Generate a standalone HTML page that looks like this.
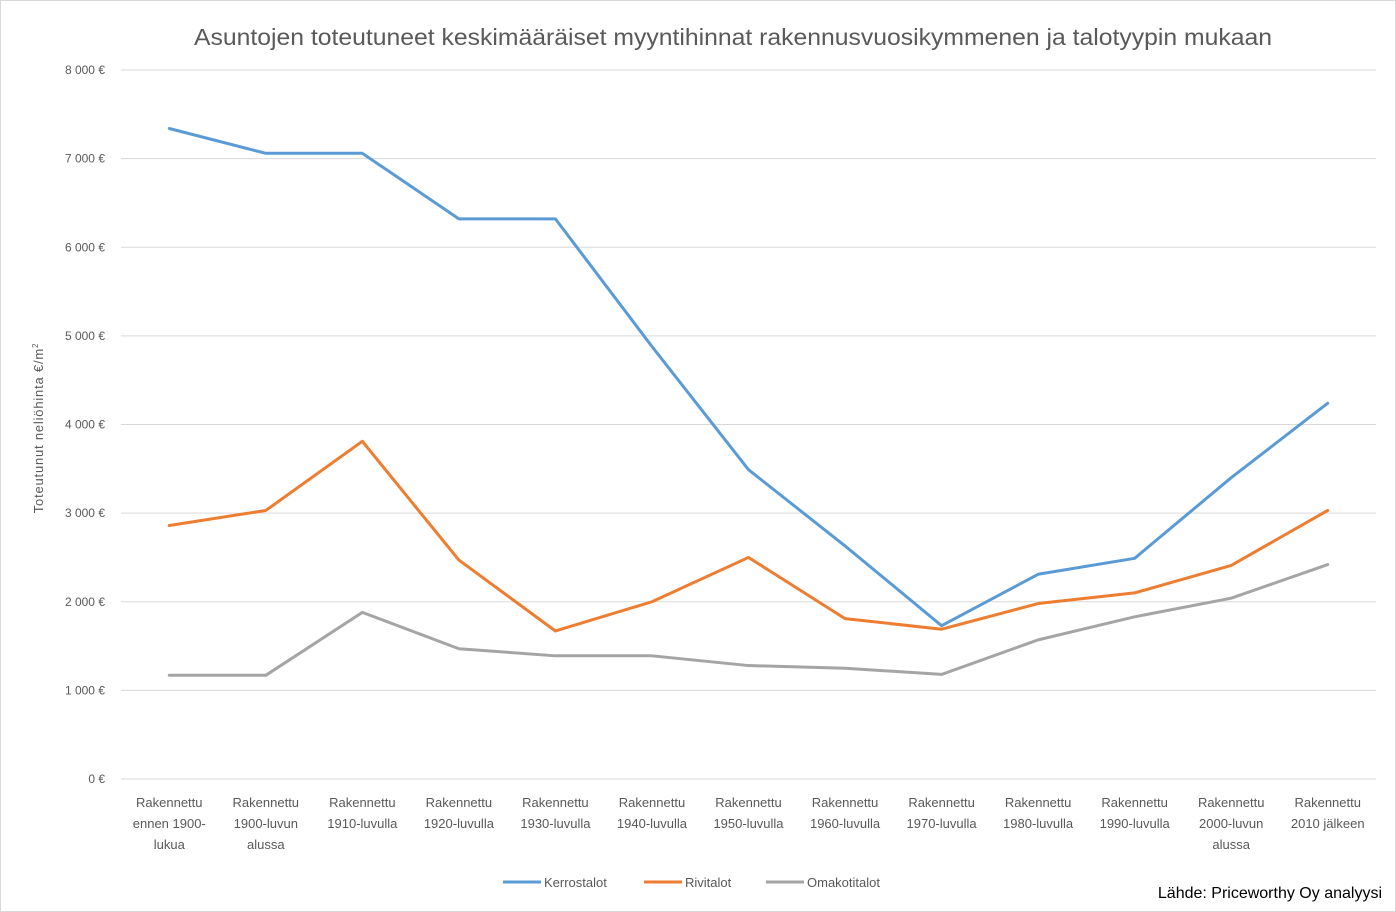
<!DOCTYPE html>
<html><head><meta charset="utf-8">
<style>
html,body{margin:0;padding:0;background:#fff;}
#wrap{position:relative;width:1394px;height:910px;border:1px solid #d9d9d9;overflow:hidden;font-family:"Liberation Sans",sans-serif;}
svg text{font-family:"Liberation Sans",sans-serif;}
</style></head>
<body>
<div id="wrap">
<svg id="chart" width="1394" height="910"></svg>
</div>
<script>
const categories=[["Rakennettu","ennen 1900-","lukua"],["Rakennettu","1900-luvun","alussa"],["Rakennettu","1910-luvulla"],["Rakennettu","1920-luvulla"],["Rakennettu","1930-luvulla"],["Rakennettu","1940-luvulla"],["Rakennettu","1950-luvulla"],["Rakennettu","1960-luvulla"],["Rakennettu","1970-luvulla"],["Rakennettu","1980-luvulla"],["Rakennettu","1990-luvulla"],["Rakennettu","2000-luvun","alussa"],["Rakennettu","2010 jälkeen"]];
const kerrostalot=[7340,7060,7060,6320,6320,4880,3490,2630,1730,2310,2490,3400,4240];
const rivitalot=[2860,3030,3810,2470,1670,2000,2500,1810,1690,1980,2100,2410,3030];
const omakotitalot=[1170,1170,1880,1470,1390,1390,1280,1250,1180,1570,1830,2040,2420];
const yTicks=[0,1000,2000,3000,4000,5000,6000,7000,8000];
const yTickLabels=["0 €","1 000 €","2 000 €","3 000 €","4 000 €","5 000 €","6 000 €","7 000 €","8 000 €"];
const seriesNames=["Kerrostalot","Rivitalot","Omakotitalot"];
const seriesColors=["#5b9bd5","#ed7d31","#a5a5a5"];

const NS="http://www.w3.org/2000/svg";
const svg=document.getElementById('chart');
function el(t,a,p){const e=document.createElementNS(NS,t);for(const k in a)e.setAttribute(k,a[k]);(p||svg).appendChild(e);return e;}
const x0=120,x1=1375,yBase=778,yTop=69;
const step=(x1-x0)/categories.length;
const xs=i=>x0+step*(i+0.5);
const ys=v=>yBase-(v/8000)*(yBase-yTop);

let t=el('text',{x:732,y:44,'text-anchor':'middle','font-size':23,'textLength':1078,'lengthAdjust':'spacingAndGlyphs',fill:'#595959'});

t.textContent="Asuntojen toteutuneet keskimääräiset myyntihinnat rakennusvuosikymmenen ja talotyypin mukaan";

yTicks.forEach((v,i)=>{
  const g=el('line',{x1:x0,x2:x1,y1:ys(v),y2:ys(v),stroke:'#d9d9d9','stroke-width':1});
  
  const l=el('text',{x:104,y:ys(v)+4,'text-anchor':'end','font-size':12,fill:'#595959'});
  
  l.textContent=yTickLabels[i];
});
let yt=el('text',{transform:'translate(42,427) rotate(-90)','text-anchor':'middle','font-size':13,'letter-spacing':'0.8',fill:'#595959'});

yt.innerHTML='Toteutunut neliöhinta €/m<tspan dy="-5" font-size="8">2</tspan>';

categories.forEach((c,i)=>{
  const g=el('text',{x:xs(i),y:806,'text-anchor':'middle','font-size':13,fill:'#595959'});
  
  c.forEach((ln,j)=>{const s=el('tspan',{x:xs(i),dy:j?21:0},g);s.textContent=ln;});
});

[kerrostalot,rivitalot,omakotitalot].forEach((arr,s)=>{
  const p=el('polyline',{points:arr.map((v,i)=>xs(i)+','+ys(v)).join(' '),fill:'none',stroke:seriesColors[s],'stroke-width':3,'stroke-linejoin':'round','stroke-linecap':'round'});
  
});

const legX=[502,643,765];
seriesNames.forEach((n,s)=>{
  const l=el('line',{x1:legX[s],x2:legX[s]+38,y1:881,y2:881,stroke:seriesColors[s],'stroke-width':3});
  
  const tx=el('text',{x:legX[s]+41,y:886,'font-size':13,fill:'#595959'});
  
  tx.textContent=n;
});
let src=el('text',{x:1381,y:897,'text-anchor':'end','font-size':16,fill:'#000'});

src.textContent="Lähde: Priceworthy Oy analyysi";
</script>
</body></html>
